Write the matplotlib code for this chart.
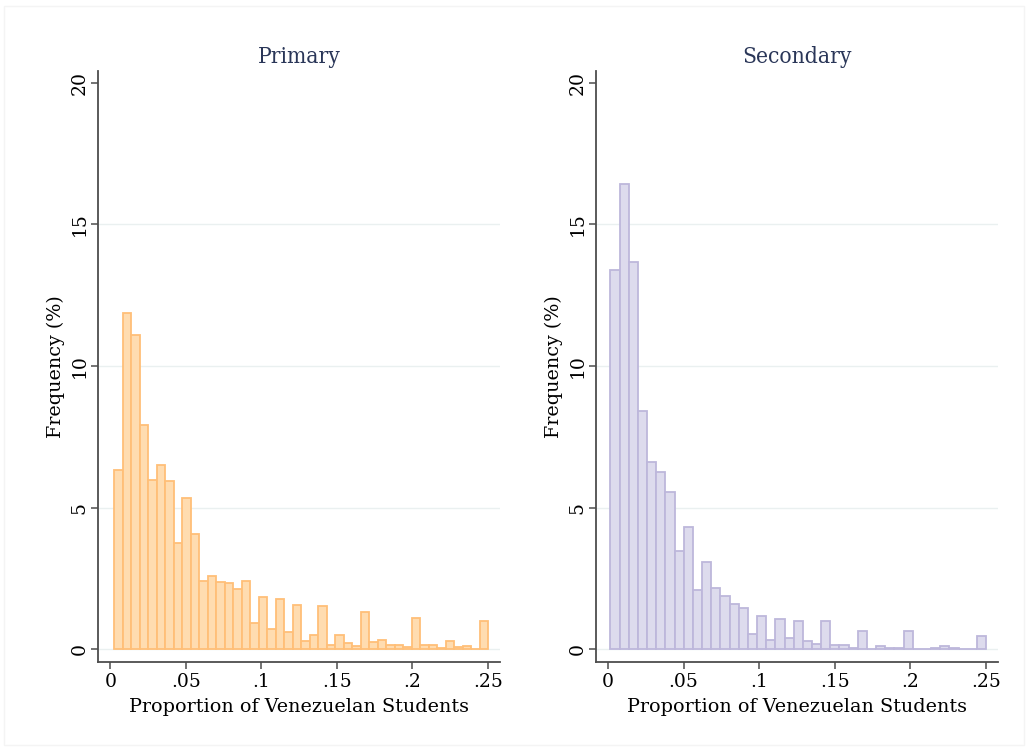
import matplotlib
matplotlib.use('Agg')
import matplotlib.pyplot as plt
from matplotlib.patches import Rectangle
import numpy as np

plt.rcParams.update({
    'font.family': 'DejaVu Serif',
    'font.size': 13.5,
})

# ── Histogram data (frequency in %) ──────────────────────────────────────────
PRIM_RANGE = (0.0027, 0.2504)
PRIM_FREQ = [6.32, 11.87, 11.09, 7.90, 5.96, 6.49, 5.93, 3.76, 5.33, 4.05,
             2.40, 2.60, 2.38, 2.33, 2.11, 2.40, 0.91, 1.85, 0.72, 1.76,
             0.62, 1.56, 0.30, 0.52, 1.52, 0.16, 0.52, 0.22, 0.13, 1.31,
             0.25, 0.33, 0.16, 0.15, 0.07, 1.10, 0.15, 0.15, 0.05, 0.30,
             0.09, 0.10, 0.00, 0.98]

SEC_RANGE = (0.0016, 0.2500)
SEC_FREQ = [13.37, 16.43, 13.66, 8.40, 6.61, 6.25, 5.54, 3.45, 4.32, 2.10,
            3.08, 2.16, 1.88, 1.58, 1.44, 0.55, 1.16, 0.31, 1.07, 0.40,
            1.01, 0.28, 0.18, 0.99, 0.15, 0.14, 0.05, 0.65, 0.02, 0.12,
            0.06, 0.05, 0.64, 0.00, 0.00, 0.05, 0.12, 0.03, 0.00, 0.00,
            0.46]

X_TICKS = [0, 0.05, 0.1, 0.15, 0.2, 0.25]
X_TICKLABELS = ['0', '.05', '.1', '.15', '.2', '.25']
Y_TICKS = [0, 5, 10, 15, 20]

PANELS = [
    ('Primary', PRIM_RANGE, PRIM_FREQ, '#ffdcb0', '#ffbf78', [0.0956, 0.1189, 0.3908, 0.7866]),
    ('Secondary', SEC_RANGE, SEC_FREQ, '#dddbed', '#bdb7db', [0.5798, 0.1189, 0.3913, 0.7866]),
]

AXIS_COL = '#4d4d4d'
TITLE_COL = '#2a3658'
GRID_COL = '#eaf0f0'

fig = plt.figure(figsize=(10.28, 7.51), dpi=100)

# faint outer frame (graph combine region)
fig.patches.append(Rectangle((0.004, 0.008), 0.992, 0.984, transform=fig.transFigure,
                             fill=False, edgecolor='#f4f4f4', lw=1.0))

for title, (lo, hi), freq, fc, ec, pos in PANELS:
    ax = fig.add_axes(pos)
    edges = np.linspace(lo, hi, len(freq) + 1)
    ax.bar(edges[:-1], freq, width=np.diff(edges), align='edge',
           facecolor=fc, edgecolor=ec, linewidth=1.3, zorder=3)

    for yv in Y_TICKS[:-1]:
        ax.axhline(yv, color=GRID_COL, lw=1.0, zorder=1)

    ax.set_xlim(-0.00795, 0.2581)
    ax.set_ylim(-0.44, 20.41)
    ax.set_xticks(X_TICKS)
    ax.set_xticklabels(X_TICKLABELS)
    ax.set_yticks(Y_TICKS)
    ax.set_yticklabels([str(v) for v in Y_TICKS], rotation=90, va='center')

    for side in ('top', 'right'):
        ax.spines[side].set_visible(False)
    for side in ('left', 'bottom'):
        ax.spines[side].set_color(AXIS_COL)
        ax.spines[side].set_linewidth(1.3)
    ax.tick_params(axis='both', direction='out', length=5, width=1.1,
                   color=AXIS_COL, labelsize=13.5, labelcolor='black', pad=3)
    ax.tick_params(axis='y', pad=2)

    ax.set_xlabel('Proportion of Venezuelan Students', fontsize=13.8, labelpad=5)
    ax.set_ylabel('Frequency (%)', fontsize=13.8, labelpad=4)
    ax.set_title(title, fontsize=16.3, color=TITLE_COL, pad=6,
                 fontstretch='condensed')

fig.savefig('out.png', dpi=100, facecolor='white')
